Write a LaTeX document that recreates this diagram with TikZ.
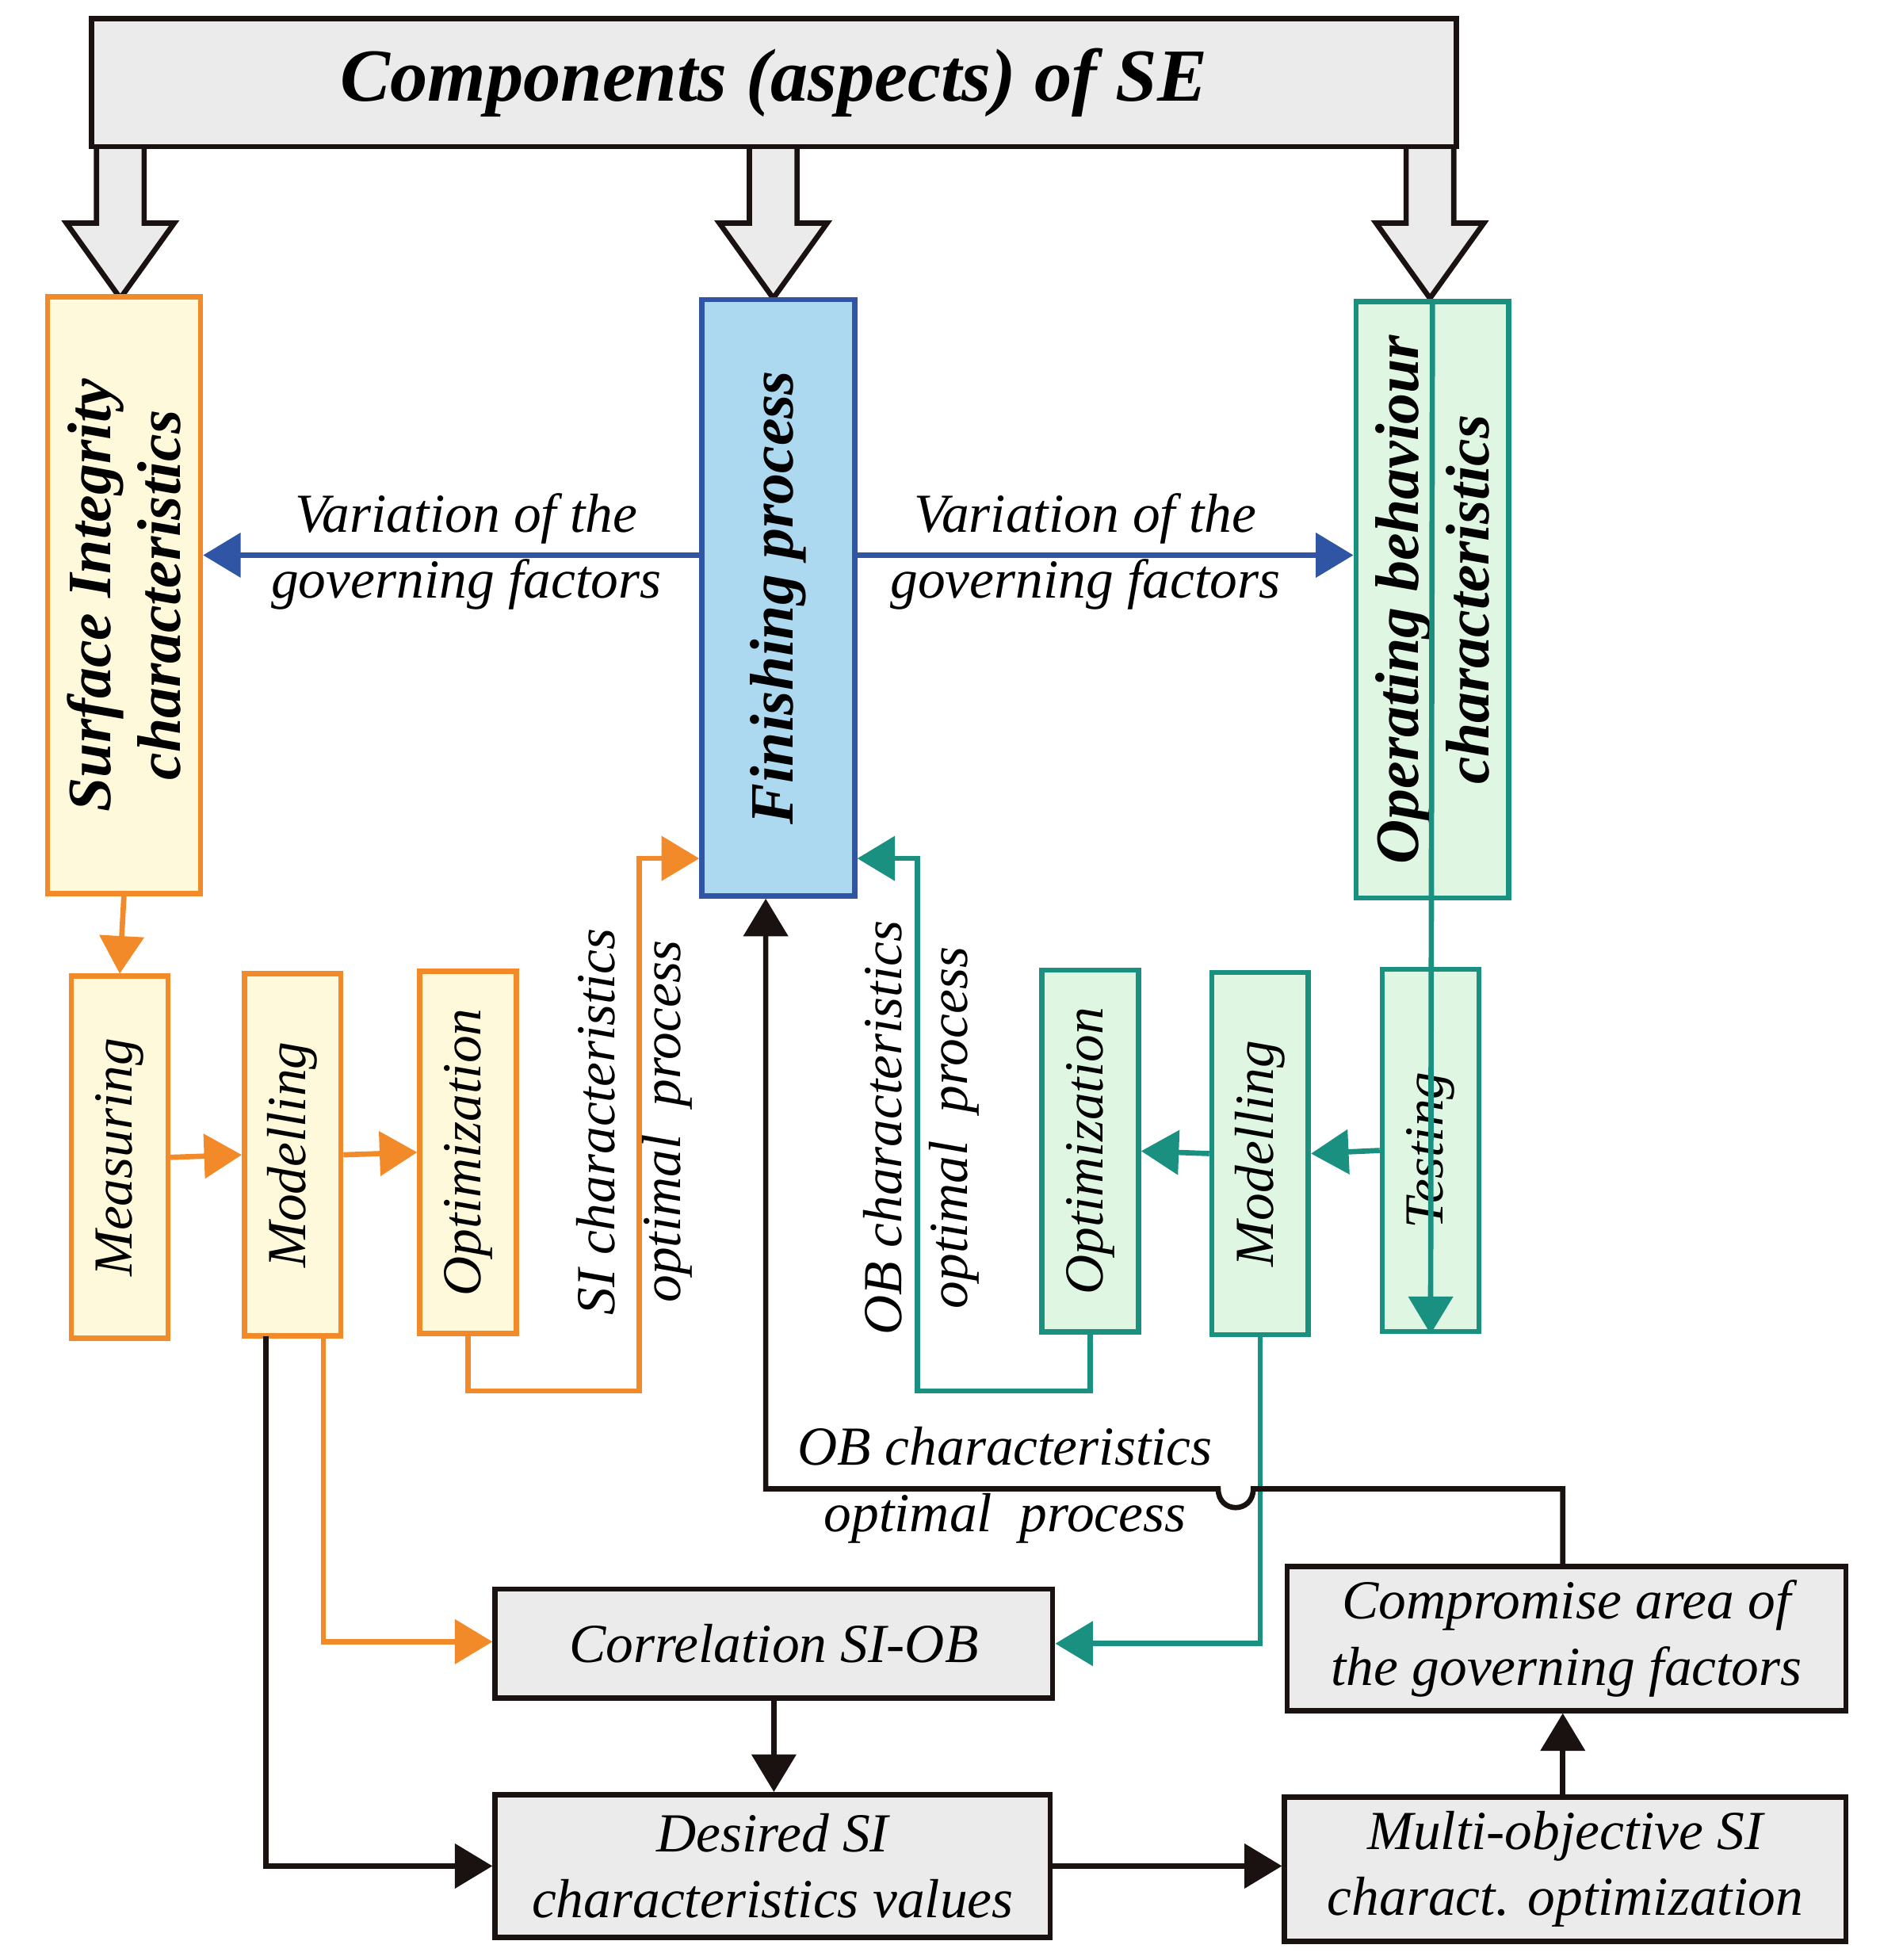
\documentclass[tikz,border=0pt]{standalone}
\usepackage{fontspec}
\setmainfont{Liberation Serif}
\usetikzlibrary{arrows.meta,calc}
\definecolor{ob}{HTML}{F28A2A}\definecolor{obf}{HTML}{FFF9DC}
\definecolor{bb}{HTML}{2F55A4}\definecolor{bbf}{HTML}{ACD8F0}
\definecolor{gb}{HTML}{1A9080}\definecolor{gbf}{HTML}{DFF7E2}
\definecolor{gf}{HTML}{EBEBEB}\definecolor{dk}{HTML}{1A1210}
\begin{document}
\begin{tikzpicture}[x=0.02cm,y=-0.02cm,
 every node/.style={font=\fontsize{25}{30}\selectfont\itshape, align=center, inner sep=0pt},
 box/.style={draw, line width=2.4pt, rectangle},
 big/.style={box, rotate=90, minimum width=9.52cm, minimum height=2.44cm, font=\fontsize{28}{32}\selectfont\bfseries\itshape},
 small/.style={box, rotate=90, minimum width=5.78cm, minimum height=1.54cm},
 gbox/.style={box, draw=dk, fill=gf},
 con/.style={line width=2.4pt, -{Triangle[length=0.6cm,width=0.7cm]}},
 hollow/.style={draw=dk, fill=gf, line width=2.4pt, line join=miter}]
\useasboundingbox (0,0) rectangle (1500,1564);
\foreach \cx in {96,617,1141}{
 \draw[hollow] (\cx-19,110)--(\cx-19,178)--(\cx-43,178)--(\cx,238)--(\cx+43,178)--(\cx+19,178)--(\cx+19,110);}
\node[gbox, minimum width=21.78cm, minimum height=2.04cm, font=\fontsize{34}{40}\selectfont\bfseries\itshape] (title) at (617.5,66) {Components (aspects) of SE};
\node[big, draw=ob, fill=obf] (SI) at (99,475) {Surface Integrity\\characteristics};
\node[big, draw=bb, fill=bbf] (FP) at (621,477) {Finishing process};
\node[big, draw=gb, fill=gbf] (OB) at (1143,478.5) {Operating behaviour\\characteristics};
\node[small, draw=ob, fill=obf] (mes) at (95.5,923.5) {Measuring};
\node[small, draw=ob, fill=obf] (modO) at (233.5,921.5) {Modelling};
\node[small, draw=ob, fill=obf] (optO) at (373.5,919.5) {Optimization};
\node[small, draw=gb, fill=gbf] (optG) at (870,918.5) {Optimization};
\node[small, draw=gb, fill=gbf] (modG) at (1005.5,920.5) {Modelling};
\node[small, draw=gb, fill=gbf] (test) at (1141.5,918) {Testing};
\node[gbox, minimum width=8.9cm, minimum height=1.74cm] (cor) at (617.5,1311.5) {Correlation SI-OB};
\node[gbox, minimum width=8.86cm, minimum height=2.28cm] (des) at (616.5,1489) {Desired SI\\characteristics values};
\node[gbox, minimum width=8.96cm, minimum height=2.3cm] (mul) at (1249,1491.5) {Multi-objective SI\\charact. optimization};
\node[gbox, minimum width=8.92cm, minimum height=2.3cm] (com) at (1250,1307.5) {Compromise area of\\the governing factors};
% blue
\draw[con, draw=bb, -{Triangle[length=0.6cm,width=0.7cm,fill=bb]}] (FP.north |- 0,443) -- (SI.south |- 0,443);
\draw[con, draw=bb, -{Triangle[length=0.6cm,width=0.7cm,fill=bb]}] (FP.south |- 0,443) -- (OB.north |- 0,443);
\node (l1) at (372,440) {Variation of the\\governing factors};
\node (l2) at (866,440) {Variation of the\\governing factors};
% orange
\draw[con, draw=ob, -{Triangle[length=0.6cm,width=0.7cm,fill=ob]}] (SI.west |- 0,713) -- (mes.east);
\draw[con, draw=ob, -{Triangle[length=0.6cm,width=0.7cm,fill=ob]}] (mes.south) -- (modO.north);
\draw[con, draw=ob, -{Triangle[length=0.6cm,width=0.7cm,fill=ob]}] (modO.south) -- (optO.north);
\draw[con, draw=ob, -{Triangle[length=0.6cm,width=0.7cm,fill=ob]}] (optO.west) |- (510,1110) |- (FP.north |- 0,685);
\draw[con, draw=ob, -{Triangle[length=0.6cm,width=0.7cm,fill=ob]}] (258,1066) |- (cor.west |- 0,1310);
\node[rotate=90] (l3) at (506,895) {SI characteristics\\optimal\ \ process};
% green
\draw[con, draw=gb, -{Triangle[length=0.6cm,width=0.7cm,fill=gb]}] (OB.east) -- (test.west);
\draw[con, draw=gb, -{Triangle[length=0.6cm,width=0.7cm,fill=gb]}] (test.north) -- (modG.south);
\draw[con, draw=gb, -{Triangle[length=0.6cm,width=0.7cm,fill=gb]}] (modG.north) -- (optG.south);
\draw[con, draw=gb, -{Triangle[length=0.6cm,width=0.7cm,fill=gb]}] (optG.west) |- (732,1110) |- (FP.south |- 0,685);
\draw[con, draw=gb, -{Triangle[length=0.6cm,width=0.7cm,fill=gb]}] (modG.west) |- (cor.east);
\node[rotate=90] (l4) at (735,900) {OB characteristics\\optimal\ \ process};
% black
\draw[con, draw=dk, -{Triangle[length=0.6cm,width=0.7cm,fill=dk]}] (212,1066) |- (des.west);
\draw[con, draw=dk, -{Triangle[length=0.6cm,width=0.7cm,fill=dk]}] (cor.south) -- (des.north -| cor.south);
\draw[con, draw=dk, -{Triangle[length=0.6cm,width=0.7cm,fill=dk]}] (des.east) -- (mul.west |- des.east);
\draw[con, draw=dk, -{Triangle[length=0.6cm,width=0.7cm,fill=dk]}] (mul.north -| 1247,0) -- (com.south -| 1247,0);
\draw[con, draw=dk, -{Triangle[length=0.6cm,width=0.7cm,fill=dk]}] (com.north -| 1247,0) -- (1247,1188) -- (1000,1188) .. controls (1000,1208) and (972,1208) .. (972,1188) -- (611,1188) -- (FP.west -| 611,0);
\node (l5) at (802,1185) {OB characteristics\\optimal\ \ process};
\end{tikzpicture}
\end{document}
